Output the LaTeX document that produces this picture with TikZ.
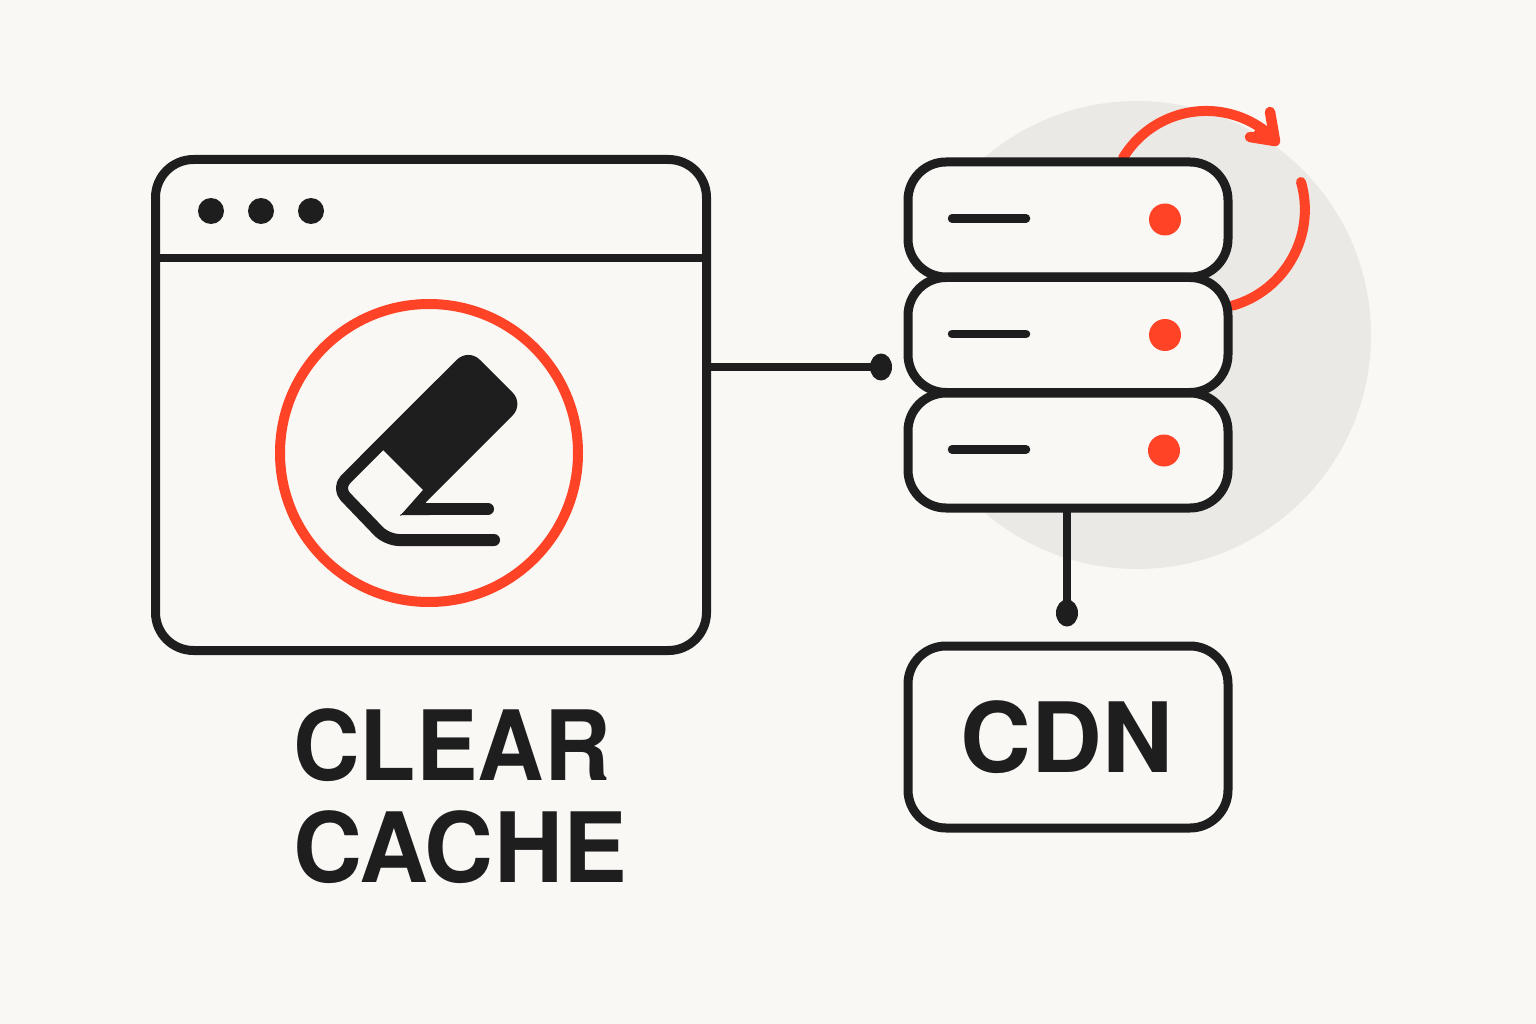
\documentclass[tikz,border=0pt]{standalone}
\usepackage{fontspec}
\setmainfont{TeX Gyre Heros}
\usetikzlibrary{shapes,positioning,calc}
\definecolor{paper}{HTML}{FAF8F5}
\definecolor{ink}{HTML}{1E1E1E}
\definecolor{alert}{HTML}{FF4326}
\definecolor{halo}{HTML}{EBE9E6}
\tikzset{
	box/.style={rectangle,draw=ink,fill=paper,line width=9pt,rounded corners=38pt,inner sep=0,outer sep=0},
	server/.style={box,minimum width=320,minimum height=115},
	edge/.style={color=ink,line width=8.5pt},
	dash line/.style={color=ink,line width=8.5pt,line cap=round},
	redarc/.style={color=alert,line width=10pt,line cap=round,line join=round},
	windot/.style={circle,fill=ink,inner sep=0,minimum size=26},
	reddot/.style={circle,fill=alert,inner sep=0,minimum size=32},
	pin/.style={ellipse,fill=ink,inner sep=0,minimum width=22,minimum height=27},
	eraseline/.style={color=ink,line width=12pt,line cap=round,line join=round},
	biglabel/.style={font=\fontsize{97}{102}\selectfont\bfseries,text=ink,inner sep=0}
}
\begin{document}
\begin{tikzpicture}[x=1pt,y=-1pt]
	\useasboundingbox (0,0) rectangle (1536,1024);
	\fill[paper] (0,0) rectangle (1536,1024);
	%%%halo and refresh arrow
	\node[circle,fill=halo,inner sep=0,minimum size=468] (halo) at (1137,335) {};
	\fill[paper] (895,162) rectangle (1068,508);
	\coordinate (arcstart) at (1123,158);
	\coordinate (arclow) at (1301,182);
	\coordinate (headtip) at (1275,141);
	\coordinate (headup) at (1270,112);
	\coordinate (headleft) at (1250,137);
	\coordinate (headmid) at (1260,124);
	\draw[redarc] (arcstart) arc[start angle=-149,end angle=-47,radius=97];
	\fill[alert] (headleft) -- (headtip) -- (headmid) -- cycle;
	\draw[redarc,line width=10.5pt] (headup) -- (headtip) -- (headleft);
	\draw[redarc] (arclow) arc[start angle=-16,end angle=74,radius=100];

	%%%browser window
	\node[box,minimum width=551,minimum height=491] (window) at (431,405) {};
	\coordinate (headmark) at (431,258);
	\draw[edge] (window.west |- headmark) -- (window.east |- headmark);
	\node[windot] (d1) at (211,211) {};
	\node[windot] (d2) at (261,211) {};
	\node[windot] (d3) at (311,211) {};
	\node[circle,draw=alert,line width=10pt,inner sep=0,minimum size=298] (ring) at (429,453) {};

	%%%eraser
	\fill[ink,rounded corners=16pt] (420,396.6) -- (468.3,348.3) -- (524,404) [sharp corners] -- (425,503) -- (400,516) -- (423,490) -- (383,450) -- (360,456.6) -- cycle;
	\draw[eraseline,rounded corners=12pt] (440,385) -- (337,488) -- (387,540) -- (494,540);
	\draw[eraseline] (425,509) -- (488,509);
	\fill[ink] (400,515) -- (425,500) -- (430,515) -- cycle;

	%%%servers
	\node[server] (s1) at (1068,219.5) {};
	\node[server] (s2) at (1068,335) {};
	\node[server] (s3) at (1068,450.5) {};
	\foreach \i/\dx in {1/0,2/0,3/-1} {
		\draw[dash line] ($(s\i.center)+(-116,-1)$) -- ($(s\i.center)+(-42,-1)$);
		\node[reddot] (r\i) at ($(s\i.center)+(97+\dx,0)$) {};
	}
	\node[box,minimum width=320,minimum height=182] (cdn) at (1068,737) {};
	\node[biglabel,anchor=base] (cdntext) at (1067,772) {\addfontfeature{FakeStretch=1.01}CDN};

	%%%connectors
	\coordinate (portmark) at (708,367);
	\coordinate (winport) at (window.east |- portmark);
	\node[pin] (pin1) at (881,367) {};
	\node[pin] (pin2) at (1067,613) {};
	\draw[edge] (winport) -- (pin1.center);
	\draw[edge] (pin2 |- s3.south) -- (pin2.center);

	\node[biglabel,anchor=base west] (clear) at (293,780) {\addfontfeature{FakeStretch=0.95}CLEAR};
	\node[biglabel,anchor=base west] (cache) at (293,882) {\addfontfeature{FakeStretch=0.985}CACHE};
\end{tikzpicture}
\end{document}
